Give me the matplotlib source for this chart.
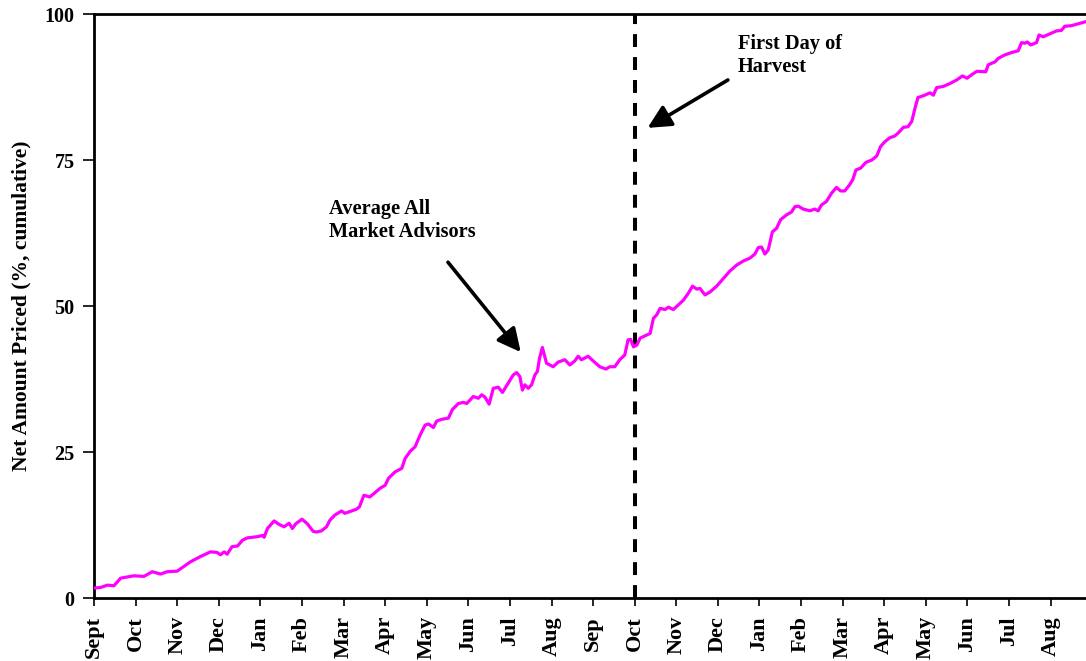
import matplotlib
matplotlib.use("Agg")
import matplotlib.pyplot as plt

plt.rcParams['font.family'] = ['Liberation Serif', 'DejaVu Serif']
plt.rcParams['font.weight'] = 'bold'

# x in months since start (0 = Sept), y = net amount priced (%)
months = [0.00, 0.16, 0.32, 0.48, 0.64, 0.80, 0.96, 1.20, 1.40, 1.60, 1.76, 2.00, 2.16, 2.32, 2.56,
          2.80, 2.96, 3.04, 3.13, 3.20, 3.32, 3.45, 3.57, 3.69, 3.93, 4.05, 4.09, 4.17, 4.33, 4.45,
          4.57, 4.69, 4.77, 4.85, 5.00, 5.13, 5.27, 5.35, 5.47, 5.59, 5.67, 5.79, 5.95, 6.03, 6.19,
          6.31, 6.38, 6.49, 6.63, 6.75, 6.88, 7.00, 7.08, 7.24, 7.40, 7.48, 7.60, 7.72, 7.84, 7.96,
          8.04, 8.16, 8.24, 8.36, 8.52, 8.62, 8.76, 8.88, 8.96, 9.12, 9.24, 9.32, 9.40, 9.50, 9.60,
          9.72, 9.82, 9.96, 10.08, 10.16, 10.24, 10.30, 10.36, 10.44, 10.52, 10.60, 10.66, 10.71,
          10.78, 10.84, 10.88, 11.04, 11.16, 11.32, 11.44, 11.56, 11.64, 11.72, 11.88, 12.00, 12.16,
          12.31, 12.40, 12.52, 12.64, 12.76, 12.84, 12.90, 12.97, 13.05, 13.13, 13.25, 13.37, 13.45,
          13.53, 13.61, 13.73, 13.81, 13.93, 14.05, 14.17, 14.29, 14.39, 14.49, 14.57, 14.69, 14.81,
          14.97, 15.13, 15.29, 15.45, 15.61, 15.77, 15.89, 15.97, 16.05, 16.13, 16.21, 16.31, 16.41,
          16.51, 16.65, 16.77, 16.85, 16.93, 17.05, 17.21, 17.33, 17.41, 17.49, 17.61, 17.73, 17.85,
          17.95, 18.05, 18.16, 18.24, 18.32, 18.43, 18.56, 18.70, 18.82, 18.91, 19.01, 19.13, 19.25,
          19.33, 19.46, 19.57, 19.66, 19.74, 19.81, 19.94, 20.10, 20.18, 20.26, 20.42, 20.58, 20.74,
          20.88, 20.99, 21.10, 21.23, 21.44, 21.50, 21.66, 21.74, 21.90, 22.06, 22.22, 22.30, 22.38,
          22.44, 22.52, 22.66, 22.72, 22.82, 22.98, 23.14, 23.26, 23.34, 23.50, 23.70, 23.85]
priced = [1.7, 1.8, 2.2, 2.1, 3.4, 3.6, 3.8, 3.7, 4.5, 4.1, 4.5, 4.6, 5.4, 6.2, 7.1,
          7.9, 7.8, 7.4, 7.9, 7.5, 8.8, 8.9, 9.9, 10.3, 10.5, 10.7, 10.4, 11.9, 13.2, 12.6,
          12.2, 12.8, 11.9, 12.7, 13.5, 12.7, 11.4, 11.3, 11.5, 12.2, 13.3, 14.2, 14.9, 14.5, 14.9,
          15.2, 15.6, 17.6, 17.3, 18.0, 18.8, 19.3, 20.5, 21.6, 22.2, 23.9, 25.1, 25.9, 27.9, 29.6,
          29.8, 29.2, 30.3, 30.6, 30.8, 32.3, 33.3, 33.5, 33.3, 34.5, 34.2, 34.8, 34.4, 33.2, 35.9,
          36.1, 35.2, 36.8, 38.2, 38.6, 37.9, 35.6, 36.5, 35.9, 36.5, 38.2, 38.8, 41.0,
          42.9, 41.3, 40.2, 39.6, 40.4, 40.8, 39.9, 40.6, 41.4, 40.8, 41.4, 40.6, 39.6,
          39.2, 39.6, 39.6, 40.8, 41.6, 44.2, 44.3, 43.0, 43.3, 44.5, 44.9, 45.3, 47.9,
          48.5, 49.6, 49.4, 49.8, 49.4, 50.2, 51.0, 52.2, 53.4, 52.9, 53.0, 51.9, 52.4,
          53.4, 54.7, 56.0, 57.0, 57.7, 58.2, 58.9, 60.0, 60.1, 58.9, 59.6, 62.7, 63.3,
          64.8, 65.6, 66.1, 67.0, 67.1, 66.6, 66.3, 66.6, 66.3, 67.3, 67.9, 69.3, 70.3,
          69.7, 69.7, 70.7, 71.6, 73.3, 73.6, 74.6, 75.0, 75.7, 77.3, 78.1, 78.8, 79.1,
          79.6, 80.6, 80.7, 81.6, 83.9, 85.7, 86.0, 86.5, 86.1, 87.4, 87.6, 88.1, 88.7,
          89.4, 89.0, 89.6, 90.2, 90.1, 91.3, 91.8, 92.4, 93.0, 93.4, 93.7, 95.1, 95.0,
          95.2, 94.7, 95.1, 96.4, 96.1, 96.6, 97.1, 97.2, 97.9, 98.0, 98.4, 98.7]

month_labels = ['Sept', 'Oct', 'Nov', 'Dec', 'Jan', 'Feb', 'Mar', 'Apr', 'May', 'Jun', 'Jul', 'Aug',
                'Sep', 'Oct', 'Nov', 'Dec', 'Jan', 'Feb', 'Mar', 'Apr', 'May', 'Jun', 'Jul', 'Aug']
y_ticks = [0, 25, 50, 75, 100]
harvest_month = 13

fig = plt.figure(figsize=(10.86, 6.61), dpi=100)
ax = fig.add_axes([94 / 1086, 63 / 661, 992 / 1086, 584 / 661])

ax.plot(months, priced, color='#FF00FF', lw=2.3, solid_joinstyle='round', zorder=3)
ax.axvline(harvest_month, color='black', lw=2.9, dashes=(3.2, 2.5), zorder=2)

ax.set_xlim(0, 23.85)
ax.set_ylim(0, 100)
ax.set_xticks(range(len(month_labels)))
ax.set_xticklabels(month_labels, rotation=90, fontsize=16, fontweight='bold')
ax.set_yticks(y_ticks)
ax.set_yticklabels([str(v) for v in y_ticks], fontsize=14.5, fontweight='bold')
ax.tick_params(axis='x', direction='out', length=6, width=1.2, pad=7)
ax.tick_params(axis='y', direction='out', length=8, width=1.2, pad=6)

for s in ['left', 'bottom', 'top']:
    ax.spines[s].set_linewidth(2)
ax.spines['right'].set_visible(False)

ax.set_ylabel('Net Amount Priced (%, cumulative)', fontsize=15.5, fontweight='bold')
ax.yaxis.set_label_coords(-0.0635, 0.5)

arrow_kw = dict(arrowstyle='-|>,head_length=0.5,head_width=0.25', color='black', lw=2.6,
                mutation_scale=28, shrinkA=0, shrinkB=0)
ax.annotate('', xy=(10.26, 42.1), xytext=(8.51, 57.5), arrowprops=arrow_kw)
ax.annotate('', xy=(13.31, 80.5), xytext=(15.24, 88.7), arrowprops=arrow_kw)

ax.text(5.65, 68.3, 'Average All\nMarket Advisors', fontsize=14.7, fontweight='bold',
        ha='left', va='top', linespacing=1.2)
ax.text(15.48, 96.6, 'First Day of\nHarvest', fontsize=14.7, fontweight='bold',
        ha='left', va='top', linespacing=1.2)

fig.savefig('out.png', dpi=100)
